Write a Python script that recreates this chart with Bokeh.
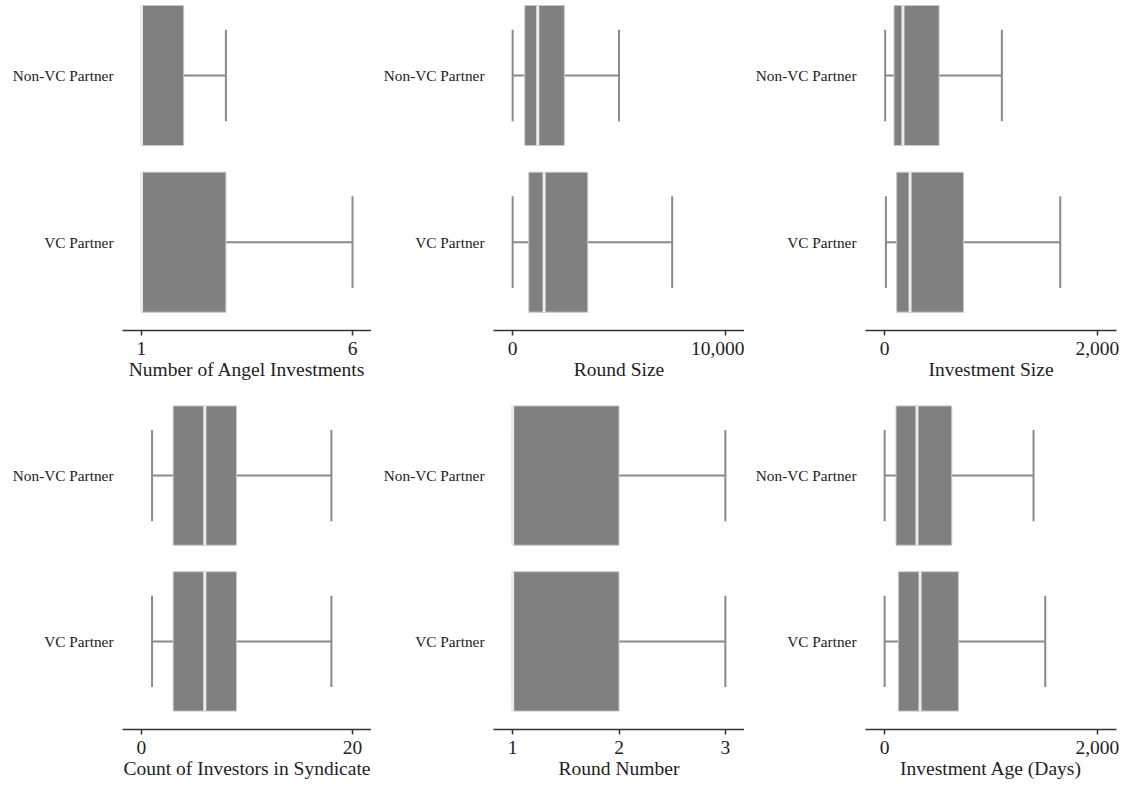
from bokeh.plotting import figure
from bokeh.models import ColumnDataSource, Range1d, FixedTicker, NumeralTickFormatter
from bokeh.layouts import gridplot
from bokeh.embed import file_html
from bokeh.resources import INLINE

groups = ["VC Partner", "Non-VC Partner"]   # y = 0, 1

# each panel: [min, q1, median, q3, max] for VC Partner and Non-VC Partner
angel_vc = [1, 1, 1, 3, 6]
angel_nonvc = [1, 1, 1, 2, 3]
round_vc = [0, 760, 1480, 3530, 7500]
round_nonvc = [0, 570, 1180, 2430, 5000]
inv_vc = [12, 113, 239, 741, 1651]
inv_nonvc = [5, 88, 172, 512, 1102]
count_vc = [1, 3, 6, 9, 18]
count_nonvc = [1, 3, 6, 9, 18]
rnum_vc = [1, 1, 1, 2, 3]
rnum_nonvc = [1, 1, 1, 2, 3]
age_vc = [0, 129, 333, 694, 1510]
age_nonvc = [0, 107, 304, 631, 1400]

titles = ["Number of Angel Investments", "Round Size", "Investment Size",
          "Count of Investors in Syndicate", "Round Number", "Investment Age (Days)"]
ticks = [[1, 6], [0, 10000], [0, 2000], [0, 20], [1, 2, 3], [0, 2000]]
data = [(angel_vc, angel_nonvc), (round_vc, round_nonvc), (inv_vc, inv_nonvc),
        (count_vc, count_nonvc), (rnum_vc, rnum_nonvc), (age_vc, age_nonvc)]

FONT = "Liberation Serif"
BOX_H = 0.84
CAP_H = 0.275

def make_panel(i):
    row, col = divmod(i, 3)
    t = ticks[i]
    span = t[-1] - t[0]
    pad = 0.09 * span
    if col == 0:
        w, mbl, mbr = 371, 122, 0
    elif col == 1:
        w, mbl, mbr = 373, 122, 0
    else:
        w, mbl, mbr = 377, 121, 5
    if row == 0:
        h, mbt, mbb = 387, 0, 57
        yr = Range1d(-0.530, 1.450)
    else:
        h, mbt, mbb = 394, 0, 50
        yr = Range1d(-0.531, 1.531)
    p = figure(width=w, height=h, x_range=Range1d(t[0] - pad, t[-1] + pad), y_range=yr,
               output_backend="svg", toolbar_location=None,
               min_border_left=mbl, min_border_right=mbr,
               min_border_top=mbt, min_border_bottom=mbb)
    vc, nonvc = data[i]
    ys = [0, 1]
    stats = [vc, nonvc]
    src = ColumnDataSource(dict(
        y=ys,
        lo=[s[0] for s in stats], q1=[s[1] for s in stats], med=[s[2] for s in stats],
        q3=[s[3] for s in stats], hi=[s[4] for s in stats],
        ylo=[y - CAP_H for y in ys], yhi=[y + CAP_H for y in ys],
        bylo=[y - BOX_H / 2 for y in ys], byhi=[y + BOX_H / 2 for y in ys],
    ))
    wc = "#8a8a8a"
    p.segment(x0="lo", y0="y", x1="q1", y1="y", source=src, line_color=wc, line_width=2)
    p.segment(x0="q3", y0="y", x1="hi", y1="y", source=src, line_color=wc, line_width=2)
    p.segment(x0="lo", y0="ylo", x1="lo", y1="yhi", source=src, line_color=wc, line_width=2)
    p.segment(x0="hi", y0="ylo", x1="hi", y1="yhi", source=src, line_color=wc, line_width=2)
    p.quad(left="q1", right="q3", bottom="bylo", top="byhi", source=src,
           fill_color="#808080", line_color="#c8c8c8", line_width=1)
    p.segment(x0="med", y0="bylo", x1="med", y1="byhi", source=src,
              line_color="#ebebeb", line_width=3)

    p.xgrid.visible = False
    p.ygrid.visible = False
    p.outline_line_color = None

    xa = p.xaxis[0]
    xa.ticker = FixedTicker(ticks=t)
    xa.minor_tick_line_color = None
    xa.major_tick_out = 5
    xa.major_tick_in = 0
    xa.axis_line_color = "#333333"
    xa.axis_line_width = 1.5
    xa.major_tick_line_color = "#333333"
    xa.major_tick_line_width = 1.5
    xa.major_label_text_font = FONT
    xa.major_label_text_font_size = "19.5px"
    xa.major_label_text_color = "#222222"
    xa.major_label_standoff = 6
    xa.axis_label = titles[i]
    xa.axis_label_text_font = FONT
    xa.axis_label_text_font_size = "19.5px"
    xa.axis_label_text_font_style = "normal"
    xa.axis_label_text_color = "#222222"
    xa.axis_label_standoff = 1
    if t[-1] >= 1000:
        xa.formatter = NumeralTickFormatter(format="0,0")

    ya = p.yaxis[0]
    ya.ticker = FixedTicker(ticks=ys)
    ya.major_label_overrides = {0: groups[0], 1: groups[1]}
    ya.axis_line_color = None
    ya.major_tick_line_color = None
    ya.minor_tick_line_color = None
    ya.major_tick_out = 0
    ya.major_tick_in = 0
    ya.major_label_text_font = FONT
    ya.major_label_text_font_size = "15.3px"
    ya.major_label_text_color = "#222222"
    ya.major_label_standoff = 9
    return p

panels = [make_panel(i) for i in range(6)]
grid = gridplot([panels[0:3], panels[3:6]], toolbar_location=None)

open("out.html", "w").write(file_html(grid, INLINE))
